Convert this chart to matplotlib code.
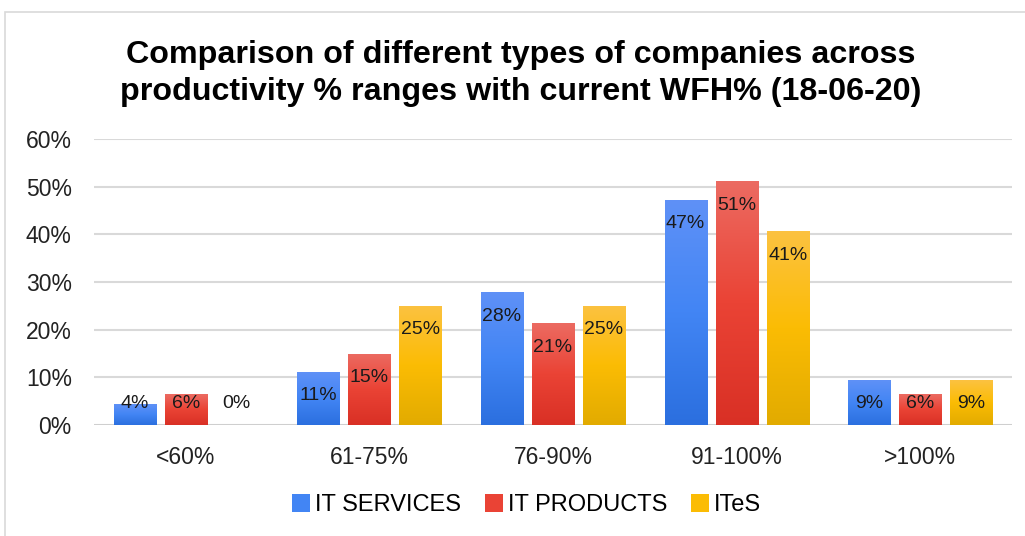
import numpy as np
import matplotlib
matplotlib.use("Agg")
import matplotlib.pyplot as plt
from matplotlib.colors import LinearSegmentedColormap
from matplotlib.patches import Rectangle, Patch
from matplotlib.legend_handler import HandlerPatch

categories = ["<60%", "61-75%", "76-90%", "91-100%", ">100%"]
series_names = ["IT SERVICES", "IT PRODUCTS", "ITeS"]
it_services = [4.4, 11.1, 27.8, 47.2, 9.4]
it_products = [6.4, 14.9, 21.3, 51.1, 6.4]
ites = [0.0, 25.0, 25.0, 40.6, 9.4]
yticks = [0, 10, 20, 30, 40, 50, 60]
title = "Comparison of different types of companies across\nproductivity % ranges with current WFH% (18-06-20)"

grad = {
    "IT SERVICES": ("#5f91f7", "#4285f4", "#2b6fdf"),
    "IT PRODUCTS": ("#ec6b62", "#ea4335", "#d93025"),
    "ITeS": ("#fcc241", "#fbbc04", "#e2ab00"),
}

plt.rcParams["font.family"] = ["Liberation Sans", "DejaVu Sans"]

fig = plt.figure(figsize=(10.25, 5.36), dpi=100)
ax = fig.add_axes([0.0917, 0.2071, 0.8956, 0.5336])

# chart frame
fig.patches.append(Rectangle((5 / 1025, -0.1), 1.2, (536 - 12) / 536 + 0.1,
                             transform=fig.transFigure, fill=False,
                             edgecolor="#d9d9d9", linewidth=1.2))

x = np.arange(len(categories))
w = 0.229
step = 0.278
data = [it_services, it_products, ites]
for i, (name, vals) in enumerate(zip(series_names, data)):
    offs = (i - 1) * step
    bars = ax.bar(x + offs, vals, width=w, color="none", edgecolor="none", zorder=3)
    c_top, c_mid, c_bot = grad[name]
    cmap = LinearSegmentedColormap.from_list(name, [c_bot, c_mid, c_top])
    for b, v in zip(bars, vals):
        if v > 0:
            g = np.linspace(0, 1, 256).reshape(-1, 1)
            im = ax.imshow(g, cmap=cmap, origin="lower", aspect="auto",
                           extent=[b.get_x(), b.get_x() + b.get_width(), 0, v],
                           zorder=3, interpolation="bilinear")
            im.set_clip_path(b)
        ly = max(v - 5.0, 4.6)
        ax.text(b.get_x() + b.get_width() / 2, ly, f"{v:.0f}%", ha="center",
                va="center", fontsize=14, color="#1a1a1a", zorder=4)

ax.set_xlim(-0.5, len(categories) - 0.5)
ax.set_ylim(0, 60)
ax.set_yticks(yticks)
ax.set_yticklabels([f"{t}%" for t in yticks])
ax.set_xticks(x)
ax.set_xticklabels(categories)
ax.tick_params(axis="y", length=0, pad=16, labelsize=16.5, labelcolor="#222222")
ax.tick_params(axis="x", length=0, pad=15, labelsize=16.5, labelcolor="#222222")
ax.grid(axis="y", color="#d9d9d9", linewidth=1.5, zorder=0)
ax.set_axisbelow(True)
for s in ax.spines.values():
    s.set_visible(False)
ax.axhline(0, color="#cccccc", linewidth=1.8, zorder=2)

fig.text(0.508, 0.863, title, ha="center", va="center", fontsize=23.2,
         fontweight="bold", color="#000000", linespacing=1.27)


class GradHandler(HandlerPatch):
    def create_artists(self, legend, orig_handle, xdescent, ydescent, width,
                       height, fontsize, trans):
        s = 13
        xx = width - s
        yy = (height - s) / 2
        p = Rectangle((xx - xdescent, yy - ydescent), s, s,
                      facecolor=orig_handle.get_facecolor(), edgecolor="none",
                      transform=trans)
        return [p]


handles = [Patch(facecolor=grad[n][1], label=n) for n in series_names]
leg = fig.legend(handles=handles, loc="center", bbox_to_anchor=(0.516, 0.057),
                 ncol=3, frameon=False, fontsize=17, handlelength=0.55,
                 handletextpad=0.21, columnspacing=1.23,
                 handler_map={Patch: GradHandler()})

fig.savefig("out.png", dpi=100)
